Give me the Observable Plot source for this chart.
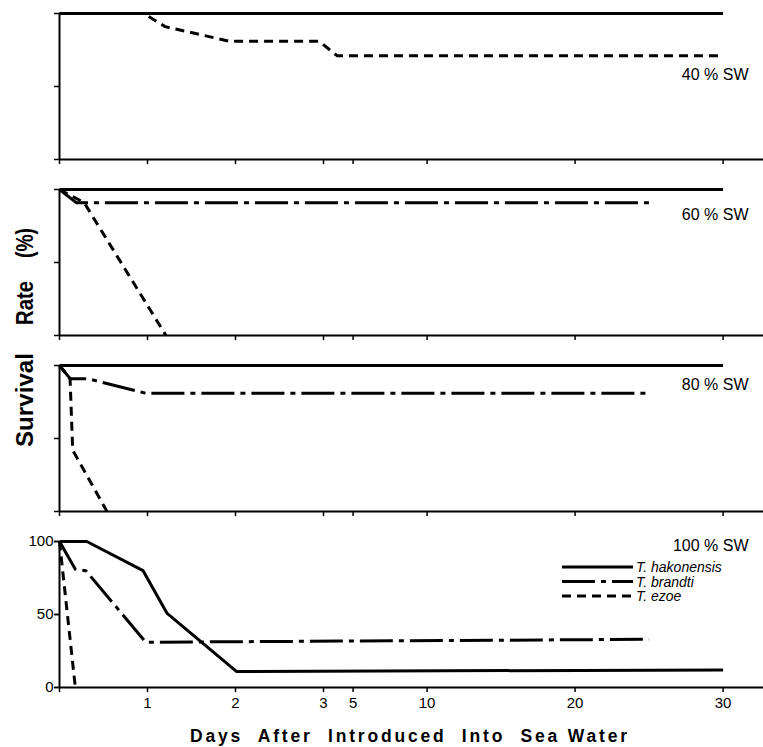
<!DOCTYPE html>
<html>
<head>
<meta charset="utf-8">
<script src="https://cdn.jsdelivr.net/npm/d3@7"></script>
<script src="https://cdn.jsdelivr.net/npm/@observablehq/plot@0.6"></script>
<style>
  html, body { margin: 0; padding: 0; background: #fff; }
  #chart { width: 763px; height: 747px; }
</style>
</head>
<body>
<div id="chart"></div>
<script>
// ---------- data ----------
const panels = ["40 % SW", "60 % SW", "80 % SW", "100 % SW"];
const species = ["T. hakonensis", "T. brandti", "T. ezoe"];
const xTicks = [0, 1, 2, 3, 5, 10, 20, 30];
const yTicks = [0, 50, 100];

// [day, survival %]
const hakonensis40 = [[0, 100], [30, 100]];
const ezoe40 = [[0, 100], [0.96, 100], [1.2, 91], [1.93, 81], [2.95, 81], [3.93, 71], [30, 71]];

const hakonensis60 = [[0, 100], [30, 100]];
const brandti60 = [[0, 100], [0.19, 91], [25, 91]];
const ezoe60 = [[0, 100], [0.28, 91], [1.21, 0]];

const hakonensis80 = [[0, 100], [30, 100]];
const brandti80 = [[0, 100], [0.12, 91], [0.32, 91], [0.98, 81], [25, 81]];
const ezoe80 = [[0, 100], [0.12, 91], [0.15, 42], [0.54, 0]];

const hakonensis100 = [[0, 100], [0.31, 100], [0.95, 80], [1.22, 51], [2.01, 11], [30, 12]];
const brandti100 = [[0, 100], [0.18, 81], [0.3, 80], [0.98, 31], [25, 33]];
const ezoe100 = [[0, 100], [0.18, 0]];

const seriesList = [
  {panel: panels[0], species: species[0], points: hakonensis40},
  {panel: panels[0], species: species[2], points: ezoe40},
  {panel: panels[1], species: species[0], points: hakonensis60},
  {panel: panels[1], species: species[1], points: brandti60},
  {panel: panels[1], species: species[2], points: ezoe60},
  {panel: panels[2], species: species[0], points: hakonensis80},
  {panel: panels[2], species: species[1], points: brandti80},
  {panel: panels[2], species: species[2], points: ezoe80},
  {panel: panels[3], species: species[0], points: hakonensis100},
  {panel: panels[3], species: species[1], points: brandti100},
  {panel: panels[3], species: species[2], points: ezoe100}
];

const rows = seriesList.flatMap(s => s.points.map(([day, value]) => ({panel: s.panel, species: s.species, day, value})));

// ---------- scale: broken day axis (0–3 days wide, 3–30 days compressed) ----------
const breakDay = 3;
const compress = 14.8 / 88; // px per day after the break relative to before
const dayTransform = d => (d <= breakDay ? d : breakDay + (d - breakDay) * compress);
// axis ticks are not passed through the scale transform, so place them in transformed units
const tickPos = xTicks.map(dayTransform);
const tickLabel = new Map(xTicks.map(d => [dayTransform(d), d === 0 ? "" : String(d)]));

// ---------- styles ----------
const dashes = {"T. hakonensis": null, "T. brandti": "33 6 5 6", "T. ezoe": "9 6"};
const labelDy = [61, 25, 19, 4];
const font = "'Liberation Sans', Arial, Helvetica, sans-serif";

const lineMarks = [species[2], species[1], species[0]].map(sp =>
  Plot.line(rows.filter(r => r.species === sp), {
    x: "day", y: "value", fy: "panel", z: "panel",
    stroke: "black", strokeWidth: 3, strokeDasharray: dashes[sp],
    strokeLinecap: "butt", strokeLinejoin: "round"
  })
);

const panelLabels = panels.map((p, i) =>
  Plot.text([p], {
    text: d => d, fy: d => d, frameAnchor: "top-right",
    dx: -15, dy: labelDy[i], textAnchor: "end", lineAnchor: "middle",
    fontSize: 16, fill: "black"
  })
);

const chart = Plot.plot({
  width: 763,
  height: 747,
  marginTop: 12,
  marginBottom: 60,
  marginLeft: 59,
  marginRight: 0,
  style: {fontFamily: font, fontSize: "15px", color: "black", background: "white"},
  x: {type: "linear", transform: dayTransform, domain: [0, 8]},
  y: {domain: [0, 100]},
  fy: {domain: panels, paddingInner: 0.172, paddingOuter: 0, axis: null, label: null},
  marks: [
    Plot.ruleY([0], {strokeWidth: 2}),
    Plot.ruleX([0], {strokeWidth: 2}),
    Plot.axisY({ticks: yTicks, tickSize: 5, tickFormat: () => "", label: null, strokeWidth: 1.5}),
    Plot.axisY({ticks: yTicks, tickSize: 5, tickPadding: 1, label: null, facetAnchor: "bottom", fontSize: 15, strokeWidth: 1.5}),
    Plot.axisX({ticks: tickPos, tickSize: 5, tickFormat: () => "", label: null, facetAnchor: null, strokeWidth: 1.5}),
    Plot.axisX({ticks: tickPos.filter(d => d > 0), tickSize: 0, tickPadding: 10, label: null, facetAnchor: "bottom", fontSize: 15, tickFormat: d => tickLabel.get(d)}),
    ...lineMarks,
    ...panelLabels
  ]
});

document.getElementById("chart").appendChild(chart);

// ---------- titles and legend (d3) ----------
const svg = d3.select(chart);

// y title, word by word
const yWords = [
  {t: "(%)", c: 243, len: 30},
  {t: "Rate", c: 303, len: 44},
  {t: "Survival", c: 400, len: 94}
];
svg.append("g").selectAll("text").data(yWords).join("text")
  .attr("transform", d => `translate(33,${d.c + d.len / 2}) rotate(-90)`)
  .attr("text-anchor", "start")
  .attr("font-family", font)
  .attr("font-size", 23)
  .attr("font-weight", "bold")
  .attr("fill", "black")
  .attr("textLength", d => d.len)
  .attr("lengthAdjust", "spacingAndGlyphs")
  .text(d => d.t);

// x title
svg.append("text")
  .attr("x", 190).attr("y", 742)
  .attr("text-anchor", "start")
  .attr("font-family", font)
  .attr("font-size", 17.5)
  .attr("font-weight", "bold")
  .attr("fill", "black")
  .attr("textLength", 437)
  .attr("lengthAdjust", "spacing")
  .style("white-space", "pre")
  .text("Days  After  Introduced  Into  Sea Water");

// legend
const lg = svg.append("g");
species.forEach((sp, i) => {
  const y = 567 + i * 14.5;
  lg.append("line")
    .attr("x1", 562).attr("x2", 633).attr("y1", y).attr("y2", y)
    .attr("stroke", "black").attr("stroke-width", 3)
    .attr("stroke-dasharray", dashes[sp]);
  lg.append("text")
    .attr("x", 636).attr("y", y + 5)
    .attr("text-anchor", "start")
    .attr("font-family", font)
    .attr("font-size", 14)
    .attr("font-style", "italic")
    .attr("fill", "black")
    .text(sp);
});
</script>
</body>
</html>
